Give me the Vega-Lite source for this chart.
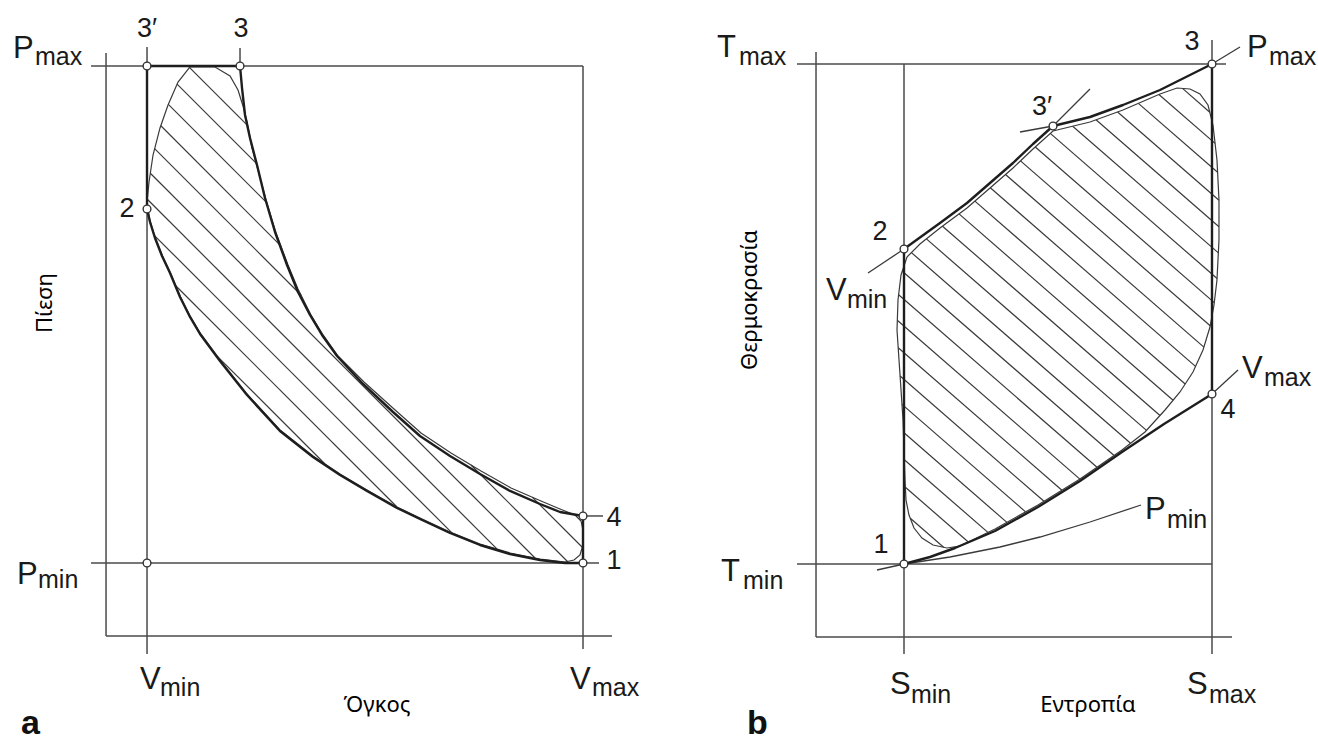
{
  "$schema": "https://vega.github.io/schema/vega-lite/v6.json",
  "background": "#ffffff",
  "padding": 0,
  "spacing": 0,
  "bounds": "flush",
  "resolve": {"scale": {"x": "independent", "y": "independent"}},
  "config": {"view": {"stroke": null}},
  "datasets": {
    "guides_a": [
      {"v": -0.094, "p": 1.0262, "v2": -0.094, "p2": -0.1469},
      {"v": -0.094, "p": -0.1469, "v2": 1.0665, "p2": -0.1469},
      {"v": -0.1284, "p": 1, "v2": 1, "p2": 1},
      {"v": 1, "p": 1, "v2": 1, "p2": -0.173},
      {"v": 0, "p": 1.0382, "v2": 0, "p2": -0.1831},
      {"v": 0.2133, "p": 1.0362, "v2": 0.2133, "p2": 1},
      {"v": -0.1284, "p": 0, "v2": 1.0367, "p2": 0},
      {"v": 1, "p": 0.0946, "v2": 1.0459, "p2": 0.0946}
    ],
    "cycle_a": [
      {"i": 0, "v": 1, "p": 0}, {"i": 1, "v": 0.9587, "p": 0}, {"i": 2, "v": 0.9014, "p": 0.006},
      {"i": 3, "v": 0.8326, "p": 0.0181}, {"i": 4, "v": 0.7638, "p": 0.0362}, {"i": 5, "v": 0.695, "p": 0.0604},
      {"i": 6, "v": 0.6261, "p": 0.0885}, {"i": 7, "v": 0.5734, "p": 0.1107}, {"i": 8, "v": 0.5046, "p": 0.1449},
      {"i": 9, "v": 0.4427, "p": 0.1771}, {"i": 10, "v": 0.3807, "p": 0.2133}, {"i": 11, "v": 0.305, "p": 0.2656},
      {"i": 12, "v": 0.2294, "p": 0.338}, {"i": 13, "v": 0.1674, "p": 0.4064}, {"i": 14, "v": 0.1216, "p": 0.4608},
      {"i": 15, "v": 0.0986, "p": 0.495}, {"i": 16, "v": 0.0757, "p": 0.5352}, {"i": 17, "v": 0.0528, "p": 0.5835},
      {"i": 18, "v": 0.0344, "p": 0.6177}, {"i": 19, "v": 0.0183, "p": 0.6539}, {"i": 20, "v": 0.0069, "p": 0.6861},
      {"i": 21, "v": 0, "p": 0.7123}, {"i": 22, "v": 0, "p": 1}, {"i": 23, "v": 0.2133, "p": 1},
      {"i": 24, "v": 0.2179, "p": 0.9557}, {"i": 25, "v": 0.2248, "p": 0.9014}, {"i": 26, "v": 0.2362, "p": 0.8551},
      {"i": 27, "v": 0.2523, "p": 0.8008}, {"i": 28, "v": 0.2706, "p": 0.7344}, {"i": 29, "v": 0.2936, "p": 0.666},
      {"i": 30, "v": 0.3211, "p": 0.5996}, {"i": 31, "v": 0.3463, "p": 0.5453}, {"i": 32, "v": 0.3739, "p": 0.499},
      {"i": 33, "v": 0.4014, "p": 0.4588}, {"i": 34, "v": 0.4358, "p": 0.4165}, {"i": 35, "v": 0.4954, "p": 0.3602},
      {"i": 36, "v": 0.5642, "p": 0.3038}, {"i": 37, "v": 0.6261, "p": 0.2555}, {"i": 38, "v": 0.695, "p": 0.2153},
      {"i": 39, "v": 0.7638, "p": 0.1791}, {"i": 40, "v": 0.8326, "p": 0.1449}, {"i": 41, "v": 0.9014, "p": 0.1187},
      {"i": 42, "v": 0.9472, "p": 0.1026}, {"i": 43, "v": 1, "p": 0.0946}, {"i": 44, "v": 1, "p": 0}
    ],
    "region_a": [
      {"i": 0, "v": 0.0986, "p": 0.998}, {"i": 1, "v": 0.1216, "p": 0.998}, {"i": 2, "v": 0.156, "p": 0.998},
      {"i": 3, "v": 0.1904, "p": 0.9799}, {"i": 4, "v": 0.2087, "p": 0.9517}, {"i": 5, "v": 0.2202, "p": 0.9195},
      {"i": 6, "v": 0.2294, "p": 0.8873}, {"i": 7, "v": 0.2408, "p": 0.835}, {"i": 8, "v": 0.2546, "p": 0.7907},
      {"i": 9, "v": 0.2729, "p": 0.7304}, {"i": 10, "v": 0.2959, "p": 0.664}, {"i": 11, "v": 0.3234, "p": 0.5996},
      {"i": 12, "v": 0.3463, "p": 0.5513}, {"i": 13, "v": 0.3761, "p": 0.499}, {"i": 14, "v": 0.4037, "p": 0.4588},
      {"i": 15, "v": 0.4381, "p": 0.4165}, {"i": 16, "v": 0.4977, "p": 0.3642}, {"i": 17, "v": 0.5665, "p": 0.3099},
      {"i": 18, "v": 0.6284, "p": 0.2616}, {"i": 19, "v": 0.6972, "p": 0.2213}, {"i": 20, "v": 0.7661, "p": 0.1851},
      {"i": 21, "v": 0.8349, "p": 0.1509}, {"i": 22, "v": 0.9037, "p": 0.1247}, {"i": 23, "v": 0.9472, "p": 0.1087},
      {"i": 24, "v": 0.9817, "p": 0.0966}, {"i": 25, "v": 0.9954, "p": 0.0845}, {"i": 26, "v": 1, "p": 0.0664},
      {"i": 27, "v": 1, "p": 0.0362}, {"i": 28, "v": 0.9931, "p": 0.0161}, {"i": 29, "v": 0.9794, "p": 0.006},
      {"i": 30, "v": 0.9587, "p": 0.002}, {"i": 31, "v": 0.9014, "p": 0.008}, {"i": 32, "v": 0.8326, "p": 0.0201},
      {"i": 33, "v": 0.7638, "p": 0.0382}, {"i": 34, "v": 0.695, "p": 0.0624}, {"i": 35, "v": 0.6261, "p": 0.0905},
      {"i": 36, "v": 0.5734, "p": 0.1127}, {"i": 37, "v": 0.5046, "p": 0.1469}, {"i": 38, "v": 0.4427, "p": 0.1791},
      {"i": 39, "v": 0.3807, "p": 0.2153}, {"i": 40, "v": 0.305, "p": 0.2676}, {"i": 41, "v": 0.2294, "p": 0.34},
      {"i": 42, "v": 0.1674, "p": 0.4085}, {"i": 43, "v": 0.1216, "p": 0.4628}, {"i": 44, "v": 0.0986, "p": 0.497},
      {"i": 45, "v": 0.0757, "p": 0.5372}, {"i": 46, "v": 0.0528, "p": 0.5855}, {"i": 47, "v": 0.0344, "p": 0.6197},
      {"i": 48, "v": 0.0183, "p": 0.6559}, {"i": 49, "v": 0.0069, "p": 0.6881}, {"i": 50, "v": 0, "p": 0.7203},
      {"i": 51, "v": 0, "p": 0.7264}, {"i": 52, "v": 0.0046, "p": 0.7666}, {"i": 53, "v": 0.0138, "p": 0.8209},
      {"i": 54, "v": 0.0298, "p": 0.8753}, {"i": 55, "v": 0.0482, "p": 0.9215}, {"i": 56, "v": 0.0711, "p": 0.9678},
      {"i": 57, "v": 0.0986, "p": 0.998}
    ],
    "hatch_a": [
      {"v": 0.0977, "p": 0.9968, "v2": 0.231, "p2": 0.8799},
      {"v": 0.069, "p": 0.9636, "v2": 0.2502, "p2": 0.8046},
      {"v": 0.0489, "p": 0.9229, "v2": 0.275, "p2": 0.7245},
      {"v": 0.0317, "p": 0.8797, "v2": 0.3069, "p2": 0.6382},
      {"v": 0.8835, "p": 0.1324, "v2": 0.9984, "p2": 0.0316},
      {"v": 0.0174, "p": 0.8338, "v2": 0.3532, "p2": 0.5392},
      {"v": 0.7431, "p": 0.1972, "v2": 0.9644, "p2": 0.003},
      {"v": 0.0076, "p": 0.7841, "v2": 0.8899, "p2": 0.0101},
      {"v": 0.0007, "p": 0.7318, "v2": 0.803, "p2": 0.028},
      {"v": 0.0172, "p": 0.6588, "v2": 0.6989, "p2": 0.061},
      {"v": 0.0658, "p": 0.5579, "v2": 0.5734, "p2": 0.1127},
      {"v": 0.1608, "p": 0.4163, "v2": 0.4083, "p2": 0.1992}
    ],
    "pts_a": [
      {"v": 0, "p": 1}, {"v": 0.2133, "p": 1}, {"v": 0, "p": 0.7123},
      {"v": 0, "p": 0}, {"v": 1, "p": 0}, {"v": 1, "p": 0.0946}
    ],
    "sym_a": [
      {"txt": "P", "role": "main", "v": -0.3073, "p": 1.0161}, {"txt": "max", "role": "sub", "v": -0.2569, "p": 1.002},
      {"txt": "P", "role": "main", "v": -0.2982, "p": -0.0423}, {"txt": "min", "role": "sub", "v": -0.25, "p": -0.0503},
      {"txt": "V", "role": "main", "v": -0.0161, "p": -0.2535}, {"txt": "min", "role": "sub", "v": 0.0298, "p": -0.2676},
      {"txt": "V", "role": "main", "v": 0.9702, "p": -0.2535}, {"txt": "max", "role": "sub", "v": 1.0206, "p": -0.2676}
    ],
    "num_a": [
      {"txt": "3′", "v": 0, "p": 1.0584}, {"txt": "3", "v": 0.2156, "p": 1.0584},
      {"txt": "2", "v": -0.0459, "p": 0.6962}, {"txt": "4", "v": 1.0711, "p": 0.0744},
      {"txt": "1", "v": 1.0711, "p": -0.0121}
    ],
    "title_a": [{"txt": "Όγκος", "v": 0.5275, "p": -0.2998}],
    "ytitle_a": [{"txt": "Πίεση", "v": -0.2339, "p": 0.5231}],
    "tag_a": [{"txt": "a", "v": -0.289, "p": -0.3441}],

    "guides_b": [
      {"s": -0.2857, "t": 1.024, "s2": -0.2857, "t2": -0.146},
      {"s": -0.2857, "t": -0.146, "s2": 1.0649, "t2": -0.146},
      {"s": -0.3474, "t": 1, "s2": 1.0455, "t2": 1},
      {"s": -0.3474, "t": 0, "s2": 1, "t2": 0},
      {"s": 0, "t": 1, "s2": 0, "t2": -0.18},
      {"s": 1, "t": 1.048, "s2": 1, "t2": -0.18}
    ],
    "cycle_b": [
      {"i": 0, "s": 0, "t": 0}, {"i": 1, "s": 0, "t": 0.63}, {"i": 2, "s": 0.1169, "t": 0.682},
      {"i": 3, "s": 0.2045, "t": 0.722}, {"i": 4, "s": 0.2792, "t": 0.762}, {"i": 5, "s": 0.3539, "t": 0.802},
      {"i": 6, "s": 0.4188, "t": 0.84}, {"i": 7, "s": 0.4838, "t": 0.876}, {"i": 8, "s": 0.6039, "t": 0.894},
      {"i": 9, "s": 0.711, "t": 0.918}, {"i": 10, "s": 0.8312, "t": 0.948}, {"i": 11, "s": 1, "t": 1},
      {"i": 12, "s": 1, "t": 0.34}, {"i": 13, "s": 0.8442, "t": 0.28}, {"i": 14, "s": 0.7078, "t": 0.224},
      {"i": 15, "s": 0.5714, "t": 0.166}, {"i": 16, "s": 0.4351, "t": 0.114}, {"i": 17, "s": 0.2955, "t": 0.066},
      {"i": 18, "s": 0.1656, "t": 0.032}, {"i": 19, "s": 0.0844, "t": 0.014}, {"i": 20, "s": 0, "t": 0}
    ],
    "ext_b": [
      {"c": "vmin_lo", "i": 0, "s": -0.1169, "t": 0.582}, {"c": "vmin_lo", "i": 1, "s": 0, "t": 0.63},
      {"c": "vmin_hi", "i": 0, "s": 0.4838, "t": 0.876}, {"c": "vmin_hi", "i": 1, "s": 0.5455, "t": 0.914}, {"c": "vmin_hi", "i": 2, "s": 0.6039, "t": 0.95},
      {"c": "pmax_lo", "i": 0, "s": 0.3766, "t": 0.864}, {"c": "pmax_lo", "i": 1, "s": 0.4838, "t": 0.876},
      {"c": "pmax_hi", "i": 0, "s": 1, "t": 1}, {"c": "pmax_hi", "i": 1, "s": 1.0909, "t": 1.034},
      {"c": "vmax_lo", "i": 0, "s": -0.0877, "t": -0.012}, {"c": "vmax_lo", "i": 1, "s": 0, "t": 0},
      {"c": "vmax_hi", "i": 0, "s": 1, "t": 0.34}, {"c": "vmax_hi", "i": 1, "s": 1.0844, "t": 0.388},
      {"c": "pmin", "i": 0, "s": 0, "t": 0}, {"c": "pmin", "i": 1, "s": 0.1494, "t": 0.014},
      {"c": "pmin", "i": 2, "s": 0.3117, "t": 0.034}, {"c": "pmin", "i": 3, "s": 0.4416, "t": 0.054},
      {"c": "pmin", "i": 4, "s": 0.6039, "t": 0.084}, {"c": "pmin", "i": 5, "s": 0.7695, "t": 0.118}
    ],
    "region_b": [
      {"i": 0, "s": 0.0097, "t": 0.614}, {"i": 1, "s": 0.0519, "t": 0.64}, {"i": 2, "s": 0.1169, "t": 0.672},
      {"i": 3, "s": 0.2045, "t": 0.712}, {"i": 4, "s": 0.2792, "t": 0.752}, {"i": 5, "s": 0.3539, "t": 0.792},
      {"i": 6, "s": 0.4188, "t": 0.83}, {"i": 7, "s": 0.4838, "t": 0.866}, {"i": 8, "s": 0.6039, "t": 0.884},
      {"i": 9, "s": 0.711, "t": 0.908}, {"i": 10, "s": 0.8312, "t": 0.94}, {"i": 11, "s": 0.8864, "t": 0.952},
      {"i": 12, "s": 0.9286, "t": 0.95}, {"i": 13, "s": 0.961, "t": 0.94}, {"i": 14, "s": 0.987, "t": 0.918},
      {"i": 15, "s": 1.0032, "t": 0.878}, {"i": 16, "s": 1.0162, "t": 0.808}, {"i": 17, "s": 1.0227, "t": 0.728},
      {"i": 18, "s": 1.0227, "t": 0.648}, {"i": 19, "s": 1.0162, "t": 0.568}, {"i": 20, "s": 1.0065, "t": 0.518},
      {"i": 21, "s": 0.9935, "t": 0.474}, {"i": 22, "s": 0.9708, "t": 0.428}, {"i": 23, "s": 0.9383, "t": 0.384},
      {"i": 24, "s": 0.8961, "t": 0.344}, {"i": 25, "s": 0.8474, "t": 0.308}, {"i": 26, "s": 0.7825, "t": 0.264},
      {"i": 27, "s": 0.7078, "t": 0.228}, {"i": 28, "s": 0.5714, "t": 0.17}, {"i": 29, "s": 0.4351, "t": 0.118},
      {"i": 30, "s": 0.2955, "t": 0.07}, {"i": 31, "s": 0.1818, "t": 0.036}, {"i": 32, "s": 0.1396, "t": 0.032},
      {"i": 33, "s": 0.0942, "t": 0.038}, {"i": 34, "s": 0.0584, "t": 0.052}, {"i": 35, "s": 0.0325, "t": 0.072},
      {"i": 36, "s": 0.0162, "t": 0.098}, {"i": 37, "s": 0.0065, "t": 0.128}, {"i": 38, "s": 0.0032, "t": 0.168},
      {"i": 39, "s": 0, "t": 0.228}, {"i": 40, "s": -0.0032, "t": 0.288}, {"i": 41, "s": -0.0097, "t": 0.348},
      {"i": 42, "s": -0.0162, "t": 0.408}, {"i": 43, "s": -0.0227, "t": 0.468}, {"i": 44, "s": -0.0195, "t": 0.528},
      {"i": 45, "s": -0.0097, "t": 0.578}, {"i": 46, "s": 0.0097, "t": 0.614}
    ],
    "hatch_b": [
      {"s": 0.9042, "t": 0.9512, "s2": 0.9929, "t2": 0.9036},
      {"s": 0.8276, "t": 0.939, "s2": 1.0101, "t2": 0.8412},
      {"s": 0.761, "t": 0.9212, "s2": 1.0182, "t2": 0.7836},
      {"s": 0.6935, "t": 0.904, "s2": 1.0227, "t2": 0.7276},
      {"s": 0.6234, "t": 0.8884, "s2": 1.0227, "t2": 0.6744},
      {"s": 0.5477, "t": 0.8756, "s2": 1.0208, "t2": 0.6222},
      {"s": 0.475, "t": 0.8612, "s2": 1.0166, "t2": 0.571},
      {"s": 0.4263, "t": 0.834, "s2": 1.0075, "t2": 0.5228},
      {"s": 0.3782, "t": 0.8062, "s2": 0.9942, "t2": 0.4764},
      {"s": 0.3295, "t": 0.779, "s2": 0.9737, "t2": 0.4338},
      {"s": 0.2802, "t": 0.7524, "s2": 0.9464, "t2": 0.3952},
      {"s": 0.2302, "t": 0.7258, "s2": 0.913, "t2": 0.36},
      {"s": 0.1786, "t": 0.7002, "s2": 0.8737, "t2": 0.3276},
      {"s": 0.125, "t": 0.6756, "s2": 0.8312, "t2": 0.297},
      {"s": 0.0727, "t": 0.6502, "s2": 0.7873, "t2": 0.2672},
      {"s": 0.024, "t": 0.6228, "s2": 0.7357, "t2": 0.2414},
      {"s": -0.0055, "t": 0.5856, "s2": 0.6821, "t2": 0.217},
      {"s": -0.0175, "t": 0.5386, "s2": 0.6266, "t2": 0.1934},
      {"s": -0.0218, "t": 0.4874, "s2": 0.5711, "t2": 0.1698},
      {"s": -0.0188, "t": 0.4324, "s2": 0.5127, "t2": 0.1476},
      {"s": -0.0127, "t": 0.376, "s2": 0.4545, "t2": 0.1254},
      {"s": -0.0065, "t": 0.3192, "s2": 0.3948, "t2": 0.1042},
      {"s": -0.0019, "t": 0.2634, "s2": 0.3341, "t2": 0.0832},
      {"s": 0.001, "t": 0.2086, "s2": 0.2724, "t2": 0.0632},
      {"s": 0.0045, "t": 0.1534, "s2": 0.2088, "t2": 0.044},
      {"s": 0.0205, "t": 0.0914, "s2": 0.1286, "t2": 0.0334}
    ],
    "pts_b": [
      {"s": 1, "t": 1}, {"s": 0.4838, "t": 0.876}, {"s": 0, "t": 0.63},
      {"s": 1, "t": 0.34}, {"s": 0, "t": 0}
    ],
    "sym_b": [
      {"txt": "T", "role": "main", "s": -0.6071, "t": 1.014}, {"txt": "max", "role": "sub", "s": -0.5357, "t": 0.998},
      {"txt": "P", "role": "main", "s": 1.1136, "t": 1.014}, {"txt": "max", "role": "sub", "s": 1.1851, "t": 0.998},
      {"txt": "V", "role": "main", "s": -0.2532, "t": 0.528}, {"txt": "min", "role": "sub", "s": -0.1851, "t": 0.512},
      {"txt": "V", "role": "main", "s": 1.0974, "t": 0.372}, {"txt": "max", "role": "sub", "s": 1.1688, "t": 0.356},
      {"txt": "P", "role": "main", "s": 0.7825, "t": 0.09}, {"txt": "min", "role": "sub", "s": 0.8539, "t": 0.072},
      {"txt": "T", "role": "main", "s": -0.5942, "t": -0.034}, {"txt": "min", "role": "sub", "s": -0.5227, "t": -0.05},
      {"txt": "S", "role": "main", "s": -0.0455, "t": -0.26}, {"txt": "min", "role": "sub", "s": 0.0227, "t": -0.278},
      {"txt": "S", "role": "main", "s": 0.9188, "t": -0.26}, {"txt": "max", "role": "sub", "s": 0.9903, "t": -0.278}
    ],
    "num_b": [
      {"txt": "3", "s": 0.9351, "t": 1.028}, {"txt": "3′", "s": 0.4481, "t": 0.898},
      {"txt": "2", "s": -0.0779, "t": 0.648}, {"txt": "4", "s": 1.0519, "t": 0.292},
      {"txt": "1", "s": -0.0747, "t": 0.022}
    ],
    "title_b": [{"txt": "Εντροπία", "s": 0.5974, "t": -0.296}],
    "ytitle_b": [{"txt": "Θερμοκρασία", "s": -0.5, "t": 0.528}],
    "tag_b": [{"txt": "b", "s": -0.5097, "t": -0.34}]
  },
  "hconcat": [
    {
      "width": 659,
      "height": 742,
      "encoding": {
        "x": {"field": "v", "type": "quantitative", "scale": {"domain": [-0.3372, 1.1743], "nice": false, "zero": false}, "axis": null},
        "y": {"field": "p", "type": "quantitative", "scale": {"domain": [-0.3602, 1.1328], "nice": false, "zero": false}, "axis": null}
      },
      "layer": [
        {"data": {"name": "guides_a"}, "mark": {"type": "rule", "color": "#4a4a4a", "strokeWidth": 1.5},
         "encoding": {"x2": {"field": "v2"}, "y2": {"field": "p2"}}},
        {"data": {"name": "hatch_a"}, "mark": {"type": "rule", "color": "#3a3a3a", "strokeWidth": 1.2},
         "encoding": {"x2": {"field": "v2"}, "y2": {"field": "p2"}}},
        {"data": {"name": "region_a"}, "mark": {"type": "line", "color": "#3a3a3a", "strokeWidth": 1.2},
         "encoding": {"order": {"field": "i", "type": "quantitative"}}},
        {"data": {"name": "cycle_a"}, "mark": {"type": "line", "color": "#1e1e1e", "strokeWidth": 2.4, "strokeJoin": "round"},
         "encoding": {"order": {"field": "i", "type": "quantitative"}}},
        {"data": {"name": "pts_a"}, "mark": {"type": "point", "shape": "circle", "filled": true, "fill": "#ffffff", "stroke": "#333333", "strokeWidth": 1.4, "size": 60, "opacity": 1}},
        {"data": {"name": "sym_a"}, "transform": [{"filter": "datum.role === 'main'"}],
         "mark": {"type": "text", "align": "left", "baseline": "alphabetic", "font": "Liberation Sans, Arial, sans-serif", "fontSize": 31, "color": "#1a1a1a"},
         "encoding": {"text": {"field": "txt"}}},
        {"data": {"name": "sym_a"}, "transform": [{"filter": "datum.role === 'sub'"}],
         "mark": {"type": "text", "align": "left", "baseline": "alphabetic", "font": "Liberation Sans, Arial, sans-serif", "fontSize": 25, "color": "#1a1a1a"},
         "encoding": {"text": {"field": "txt"}}},
        {"data": {"name": "num_a"}, "mark": {"type": "text", "align": "center", "baseline": "alphabetic", "font": "Liberation Sans, Arial, sans-serif", "fontSize": 27, "color": "#1a1a1a"},
         "encoding": {"text": {"field": "txt"}}},
        {"data": {"name": "title_a"}, "mark": {"type": "text", "align": "center", "baseline": "alphabetic", "font": "Noto Sans", "fontSize": 22, "color": "#000000"},
         "encoding": {"text": {"field": "txt"}}},
        {"data": {"name": "ytitle_a"}, "mark": {"type": "text", "align": "center", "baseline": "middle", "angle": 270, "font": "Noto Sans", "fontSize": 22, "color": "#000000"},
         "encoding": {"text": {"field": "txt"}}},
        {"data": {"name": "tag_a"}, "mark": {"type": "text", "align": "left", "baseline": "alphabetic", "font": "Liberation Sans, Arial, sans-serif", "fontSize": 34, "fontWeight": "bold", "color": "#111111"},
         "encoding": {"text": {"field": "txt"}}}
      ]
    },
    {
      "width": 659,
      "height": 742,
      "encoding": {
        "x": {"field": "s", "type": "quantitative", "scale": {"domain": [-0.7955, 1.3442], "nice": false, "zero": false}, "axis": null},
        "y": {"field": "t", "type": "quantitative", "scale": {"domain": [-0.356, 1.128], "nice": false, "zero": false}, "axis": null}
      },
      "layer": [
        {"data": {"name": "guides_b"}, "mark": {"type": "rule", "color": "#4a4a4a", "strokeWidth": 1.5},
         "encoding": {"x2": {"field": "s2"}, "y2": {"field": "t2"}}},
        {"data": {"name": "hatch_b"}, "mark": {"type": "rule", "color": "#3a3a3a", "strokeWidth": 1.2},
         "encoding": {"x2": {"field": "s2"}, "y2": {"field": "t2"}}},
        {"data": {"name": "region_b"}, "mark": {"type": "line", "color": "#3a3a3a", "strokeWidth": 1.2},
         "encoding": {"order": {"field": "i", "type": "quantitative"}}},
        {"data": {"name": "ext_b"}, "mark": {"type": "line", "color": "#3a3a3a", "strokeWidth": 1.3},
         "encoding": {"detail": {"field": "c"}, "order": {"field": "i", "type": "quantitative"}}},
        {"data": {"name": "cycle_b"}, "mark": {"type": "line", "color": "#1e1e1e", "strokeWidth": 2.4, "strokeJoin": "round"},
         "encoding": {"order": {"field": "i", "type": "quantitative"}}},
        {"data": {"name": "pts_b"}, "mark": {"type": "point", "shape": "circle", "filled": true, "fill": "#ffffff", "stroke": "#333333", "strokeWidth": 1.4, "size": 60, "opacity": 1}},
        {"data": {"name": "sym_b"}, "transform": [{"filter": "datum.role === 'main'"}],
         "mark": {"type": "text", "align": "left", "baseline": "alphabetic", "font": "Liberation Sans, Arial, sans-serif", "fontSize": 31, "color": "#1a1a1a"},
         "encoding": {"text": {"field": "txt"}}},
        {"data": {"name": "sym_b"}, "transform": [{"filter": "datum.role === 'sub'"}],
         "mark": {"type": "text", "align": "left", "baseline": "alphabetic", "font": "Liberation Sans, Arial, sans-serif", "fontSize": 25, "color": "#1a1a1a"},
         "encoding": {"text": {"field": "txt"}}},
        {"data": {"name": "num_b"}, "mark": {"type": "text", "align": "center", "baseline": "alphabetic", "font": "Liberation Sans, Arial, sans-serif", "fontSize": 27, "color": "#1a1a1a"},
         "encoding": {"text": {"field": "txt"}}},
        {"data": {"name": "title_b"}, "mark": {"type": "text", "align": "center", "baseline": "alphabetic", "font": "Noto Sans", "fontSize": 22, "color": "#000000"},
         "encoding": {"text": {"field": "txt"}}},
        {"data": {"name": "ytitle_b"}, "mark": {"type": "text", "align": "center", "baseline": "middle", "angle": 270, "font": "Noto Sans", "fontSize": 22, "color": "#000000"},
         "encoding": {"text": {"field": "txt"}}},
        {"data": {"name": "tag_b"}, "mark": {"type": "text", "align": "left", "baseline": "alphabetic", "font": "Liberation Sans, Arial, sans-serif", "fontSize": 34, "fontWeight": "bold", "color": "#111111"},
         "encoding": {"text": {"field": "txt"}}}
      ]
    }
  ]
}
